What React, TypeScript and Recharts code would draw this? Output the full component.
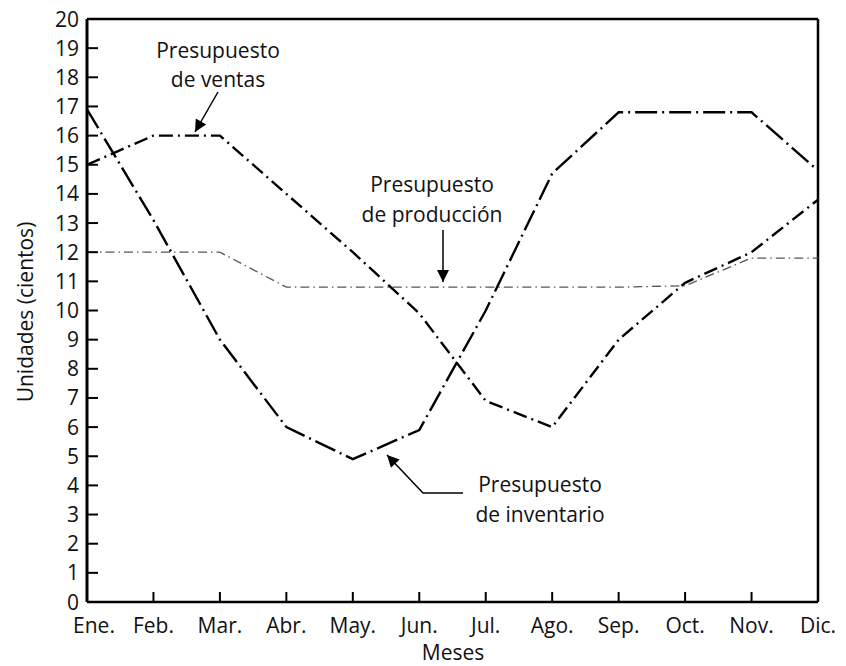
import React from "react";
import { LineChart, Line, XAxis, YAxis, ReferenceLine, Customized } from "recharts";

const months = ["Ene.", "Feb.", "Mar.", "Abr.", "May.", "Jun.", "Jul.", "Ago.", "Sep.", "Oct.", "Nov.", "Dic."];
const ventas = [15, 16, 16, 14, 12, 9.9, 6.9, 6, 9, 10.95, 12, 13.8];
const produccion = [12, 12, 12, 10.8, 10.8, 10.8, 10.8, 10.8, 10.8, 10.85, 11.8, 11.8];
const inventario = [16.9, 13.1, 9, 6, 4.9, 5.9, 10, 14.7, 16.8, 16.8, 16.8, 14.8];
const yTicks = [0, 1, 2, 3, 4, 5, 6, 7, 8, 9, 10, 11, 12, 13, 14, 15, 16, 17, 18, 19, 20];

const data = months.map((m, i) => ({
  mes: m,
  ventas: ventas[i],
  produccion: produccion[i],
  inventario: inventario[i],
}));

const FONT = "'Open Sans', sans-serif";
const FS = 21;

const YTick = (props: any) => {
  const { x, y, payload } = props;
  return (
    <g>
      <line x1={x} y1={y} x2={x + 11} y2={y} stroke="#000" strokeWidth={2} />
      <text x={x - 8} y={y} dy={7.5} textAnchor="end" fontSize={FS} fontFamily={FONT} fill="#111">
        {payload.value}
      </text>
    </g>
  );
};

const XTick = (props: any) => {
  const { x, y, payload, index } = props;
  const shift = index === 0 ? 7 : 0;
  return (
    <g>
      <line x1={x} y1={y} x2={x} y2={y - 10} stroke="#000" strokeWidth={2} />
      <text x={x + shift} y={y + 31} textAnchor="middle" fontSize={FS} fontFamily={FONT} fill="#111">
        {payload.value}
      </text>
    </g>
  );
};

const Annotations = () => (
  <g fontFamily={FONT} fontSize={FS} fill="#111" transform="translate(0,8)">
    <defs>
      <marker id="ah2" viewBox="0 0 10 10" refX="10" refY="5" markerWidth="16" markerHeight="12" orient="auto" markerUnits="userSpaceOnUse">
        <path d="M0,0 L10,5 L0,10 z" fill="#000" />
      </marker>
    </defs>
    <text x={210} y={50} textAnchor="middle">Presupuesto</text>
    <text x={210} y={79} textAnchor="middle">de ventas</text>
    <line x1={210} y1={84} x2={187} y2={124} stroke="#000" strokeWidth={1.5} markerEnd="url(#ah2)" />

    <text x={424} y={184} textAnchor="middle">Presupuesto</text>
    <text x={424} y={214} textAnchor="middle">de producción</text>
    <line x1={435} y1={222} x2={435} y2={274} stroke="#000" strokeWidth={1.5} markerEnd="url(#ah2)" />

    <text x={532} y={484} textAnchor="middle">Presupuesto</text>
    <text x={532} y={514} textAnchor="middle">de inventario</text>
    <polyline points="455,485 415,485 379,447" fill="none" stroke="#000" strokeWidth={1.5} markerEnd="url(#ah2)" />

    <text x={445} y={652} textAnchor="middle">Meses</text>
    <text x={25} y={304} textAnchor="middle" transform="rotate(-90 25 304)">Unidades (cientos)</text>
  </g>
);

export default function App() {
  return (
    <div style={{ width: 830, height: 666, marginTop: -8, background: "#fff" }}>
      <LineChart
        width={830}
        height={666}
        data={data}
        margin={{ top: 19, right: 20, bottom: 0, left: 0 }}
      >
        <XAxis
          dataKey="mes"
          scale="point"
          padding={{ left: 0, right: 0 }}
          interval={0}
          height={64}
          tickSize={0}
          tickMargin={0}
          tickLine={false}
          tick={<XTick />}
          axisLine={{ stroke: "#000", strokeWidth: 2.5 }}
        />
        <YAxis
          type="number"
          domain={[0, 20]}
          ticks={yTicks}
          interval={0}
          width={79}
          tickSize={0}
          tickMargin={0}
          tickLine={false}
          tick={<YTick />}
          axisLine={{ stroke: "#000", strokeWidth: 3 }}
        />
        <ReferenceLine y={20} stroke="#000" strokeWidth={2.5} />
        <ReferenceLine x="Dic." stroke="#000" strokeWidth={2.5} />
        <Line
          type="linear"
          dataKey="produccion"
          stroke="#555"
          strokeWidth={1.3}
          strokeDasharray="9 4 1.5 4"
          dot={false}
          isAnimationActive={false}
        />
        <Line
          type="linear"
          dataKey="ventas"
          stroke="#000"
          strokeWidth={2.4}
          strokeDasharray="14 5 2 5"
          dot={false}
          isAnimationActive={false}
        />
        <Line
          type="linear"
          dataKey="inventario"
          stroke="#000"
          strokeWidth={2.4}
          strokeDasharray="22 5 2 5"
          dot={false}
          isAnimationActive={false}
        />
        <Customized component={<Annotations />} />
      </LineChart>
    </div>
  );
}
